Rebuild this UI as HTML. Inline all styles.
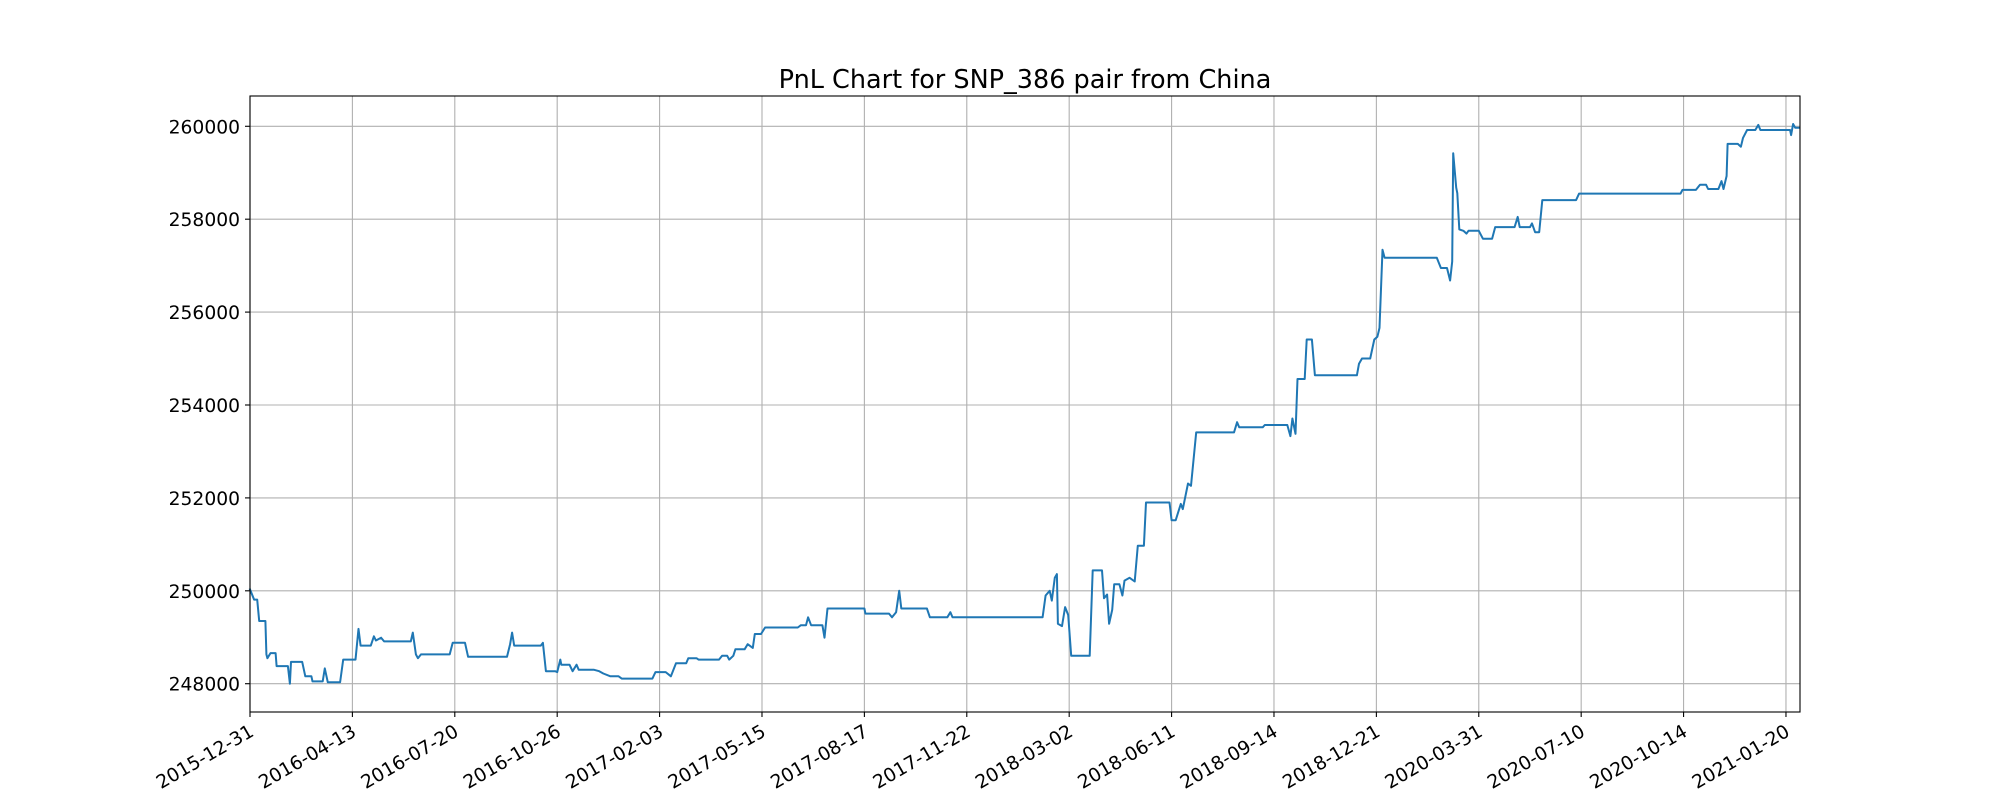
<!DOCTYPE html>
<html><head><meta charset="utf-8"><style>
html,body{margin:0;padding:0;background:#fff;}
svg{display:block;font-family:"DejaVu Sans","Liberation Sans",sans-serif;}
</style></head><body>
<svg id="chart" width="2000" height="800" viewBox="0 0 2000 800">
<rect x="0" y="0" width="2000" height="800" fill="#fff"/>
<text x="1025" y="88" font-size="25.5" text-anchor="middle" fill="#000">PnL Chart for SNP_386 pair from China</text>
<g id="grid"></g>
<g id="series"></g>
<rect x="250" y="96" width="1550" height="616" fill="none" stroke="#000" stroke-width="1.1"/>
<g id="axes"></g>
</svg>
<script>
const xTickLabels = ["2015-12-31","2016-04-13","2016-07-20","2016-10-26","2017-02-03","2017-05-15","2017-08-17","2017-11-22","2018-03-02","2018-06-11","2018-09-14","2018-12-21","2020-03-31","2020-07-10","2020-10-14","2021-01-20"];
const xTickIdx = [0,100,200,300,400,500,600,700,800,900,1000,1100,1200,1300,1400,1500];
const yTicks = [248000,250000,252000,254000,256000,258000,260000];
const pointIdx = [0,4,7,9,15,16,17,20,25,26,37,39,40,51,54,60,61,71,73,76,88,91,103,106,108,118,121,123,128,131,157,159,162,164,167,195,198,210,213,251,254,256,258,284,286,289,298,300,303,304,312,315,319,321,336,341,345,352,360,363,393,396,406,411,416,426,428,436,438,458,461,466,468,472,474,483,486,491,493,499,503,535,538,543,545,548,559,561,564,600,601,624,627,631,634,636,661,664,681,684,686,774,777,781,783,786,788,789,793,796,799,802,820,823,832,834,837,839,842,844,849,852,854,859,864,867,873,875,898,900,904,909,911,916,919,924,961,964,966,989,991,1013,1016,1018,1021,1023,1030,1032,1037,1040,1081,1083,1086,1094,1098,1101,1103,1106,1108,1159,1163,1169,1172,1174,1175,1178,1179,1181,1185,1188,1190,1200,1204,1213,1216,1235,1238,1240,1250,1252,1255,1259,1262,1295,1298,1397,1399,1412,1416,1422,1424,1434,1437,1439,1442,1443,1453,1456,1458,1462,1470,1473,1475,1504,1505,1507,1509,1513];
const pnlValues = [250030,249810,249810,249350,249350,248630,248550,248660,248660,248380,248380,248000,248470,248470,248160,248160,248050,248050,248330,248030,248030,248520,248520,249180,248820,248820,249020,248930,248990,248910,248910,249100,248630,248550,248630,248630,248880,248880,248580,248580,248850,249100,248820,248820,248880,248270,248270,248250,248520,248410,248410,248270,248410,248300,248300,248270,248220,248160,248160,248110,248110,248250,248250,248160,248440,248440,248550,248550,248520,248520,248600,248600,248520,248600,248740,248740,248850,248770,249070,249070,249210,249210,249260,249260,249430,249260,249260,248990,249620,249620,249510,249510,249430,249540,250000,249620,249620,249430,249430,249540,249430,249430,249900,250000,249790,250280,250360,249290,249240,249650,249480,248600,248600,250440,250440,249840,249920,249290,249590,250140,250140,249900,250220,250280,250200,250970,250970,251900,251900,251520,251520,251870,251760,252310,252260,253410,253410,253630,253520,253520,253570,253570,253330,253710,253380,254560,254560,255410,255410,254640,254640,254890,255000,255000,255410,255470,255660,257340,257170,257170,256950,256950,256680,257090,259420,258680,258560,257780,257750,257690,257750,257750,257580,257580,257830,257830,258050,257830,257830,257910,257720,257720,258410,258410,258550,258550,258630,258630,258740,258740,258650,258650,258820,258650,258930,259620,259620,259560,259750,259920,259920,260030,259920,259920,259810,260050,259970,259970];

const X0=250,X1=1800,Y0=96,Y1=712;
const xMin=0,xMax=1513.7,yMin=247391,yMax=260652;
const xs=i=>X0+(i-xMin)/(xMax-xMin)*(X1-X0);
const ys=v=>Y1-(v-yMin)/(yMax-yMin)*(Y1-Y0);
const NS="http://www.w3.org/2000/svg";
const grid=document.getElementById('grid'),axes=document.getElementById('axes'),series=document.getElementById('series');
function mk(tag,attrs,parent){const e=document.createElementNS(NS,tag);for(const k in attrs)e.setAttribute(k,attrs[k]);parent.appendChild(e);return e;}

xTickIdx.forEach((t,k)=>{
  const x=xs(t);
  const g=mk('line',{x1:x,x2:x,y1:Y0,y2:Y1,stroke:'#b0b0b0','stroke-width':1.1},grid);
  
  
  const tk=mk('line',{x1:x,x2:x,y1:Y1,y2:Y1+5,stroke:'#000','stroke-width':1.1},axes);
  
  
  const tx=mk('text',{x:0,y:0,'font-size':18.7,'text-anchor':'end',fill:'#000',transform:`translate(${x+5},${Y1+23}) rotate(-30)`},axes);
  tx.textContent=xTickLabels[k];
  
  
});
yTicks.forEach(v=>{
  const y=ys(v);
  const g=mk('line',{x1:X0,x2:X1,y1:y,y2:y,stroke:'#b0b0b0','stroke-width':1.1},grid);
  
  
  const tk=mk('line',{x1:X0-5,x2:X0,y1:y,y2:y,stroke:'#000','stroke-width':1.1},axes);
  
  
  const tx=mk('text',{x:X0-10,y:y+7,'font-size':18.7,'text-anchor':'end',fill:'#000'},axes);
  tx.textContent=String(v);
  
  
});
const d=pointIdx.map((t,i)=>(i?'L':'M')+xs(t).toFixed(1)+','+ys(pnlValues[i]).toFixed(1)).join('');
const p=mk('path',{d:d,fill:'none',stroke:'#1f77b4','stroke-width':2,'stroke-linejoin':'round','stroke-linecap':'square'},series);


</script>
</body></html>
